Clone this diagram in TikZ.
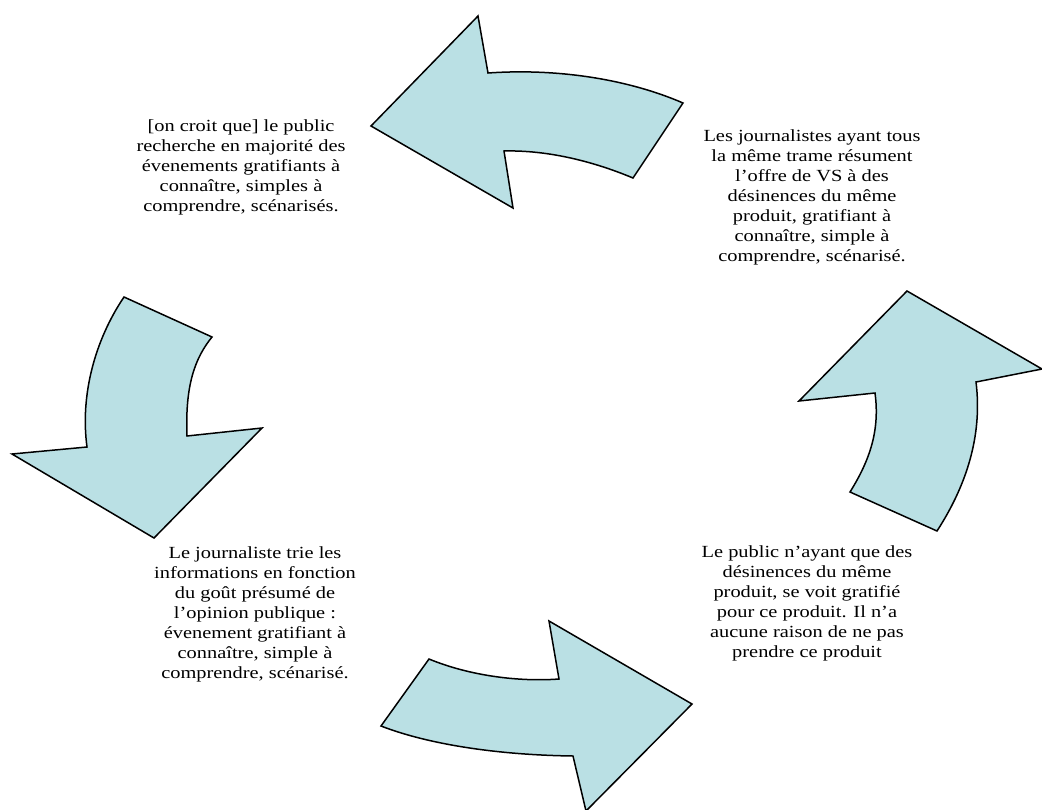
\documentclass[tikz,border=0pt]{standalone}
\usepackage{fontspec}
\setmainfont[FakeStretch=1.2]{Liberation Serif}
\definecolor{arrowfill}{RGB}{186,224,228}
\tikzset{
  bigarrow/.style={draw=black, line width=1.5pt, fill=arrowfill, line join=miter},
  label/.style={align=center, font=\fontsize{17}{20}\selectfont, inner sep=0pt}
}
\begin{document}
\begin{tikzpicture}[x=1pt,y=-1pt]
\useasboundingbox (0,0) rectangle (1042,809);
\clip (0,0) rectangle (1042,809);
% top arrow (pointing left)
\draw[bigarrow] (371,126) -- (478,16) -- (488,73)
  .. controls (560,68) and (630,80) .. (683,103) -- (633,178)
  .. controls (590,160) and (545,150) .. (504,151) -- (513,208) -- cycle;
% left arrow (pointing down)
\draw[bigarrow] (124,297) -- (212,337)
  .. controls (195,358) and (185,385) .. (187,436) -- (262,428) -- (154,538)
  -- (12,454) -- (87,447)
  .. controls (80,395) and (95,340) .. (124,297) -- cycle;
% bottom arrow (pointing right)
\draw[bigarrow] (429,659) .. controls (470,676) and (520,682) .. (559,679)
  -- (549,621) -- (692,704) -- (586,811) -- (573,756)
  .. controls (500,755) and (430,745) .. (381,726) -- cycle;
% right arrow (pointing up)
\draw[bigarrow] (907,291) -- (1042,369) -- (976,382)
  .. controls (982,430) and (970,480) .. (937,531) -- (850,492)
  .. controls (870,460) and (880,430) .. (875,393) -- (799,401) -- cycle;
% texts
\node[label] (t1) at (241,167) {[on croit que] le public\\recherche en majorité des\\évenements gratifiants à\\connaître, simples à\\comprendre, scénarisés.};
\node[label] (t2) at (812,197) {Les journalistes ayant tous\\la même trame résument\\l’offre de VS à des\\désinences du même\\produit, gratifiant à\\connaître, simple à\\comprendre, scénarisé.};
\node[label] (t3) at (255,614) {Le journaliste trie les\\informations en fonction\\du goût présumé de\\l’opinion publique :\\évenement gratifiant à\\connaître, simple à\\comprendre, scénarisé.};
\node[label] (t4) at (807,603) {Le public n’ayant que des\\désinences du même\\produit, se voit gratifié\\pour ce produit. Il n’a\\aucune raison de ne pas\\prendre ce produit};
\end{tikzpicture}
\end{document}
